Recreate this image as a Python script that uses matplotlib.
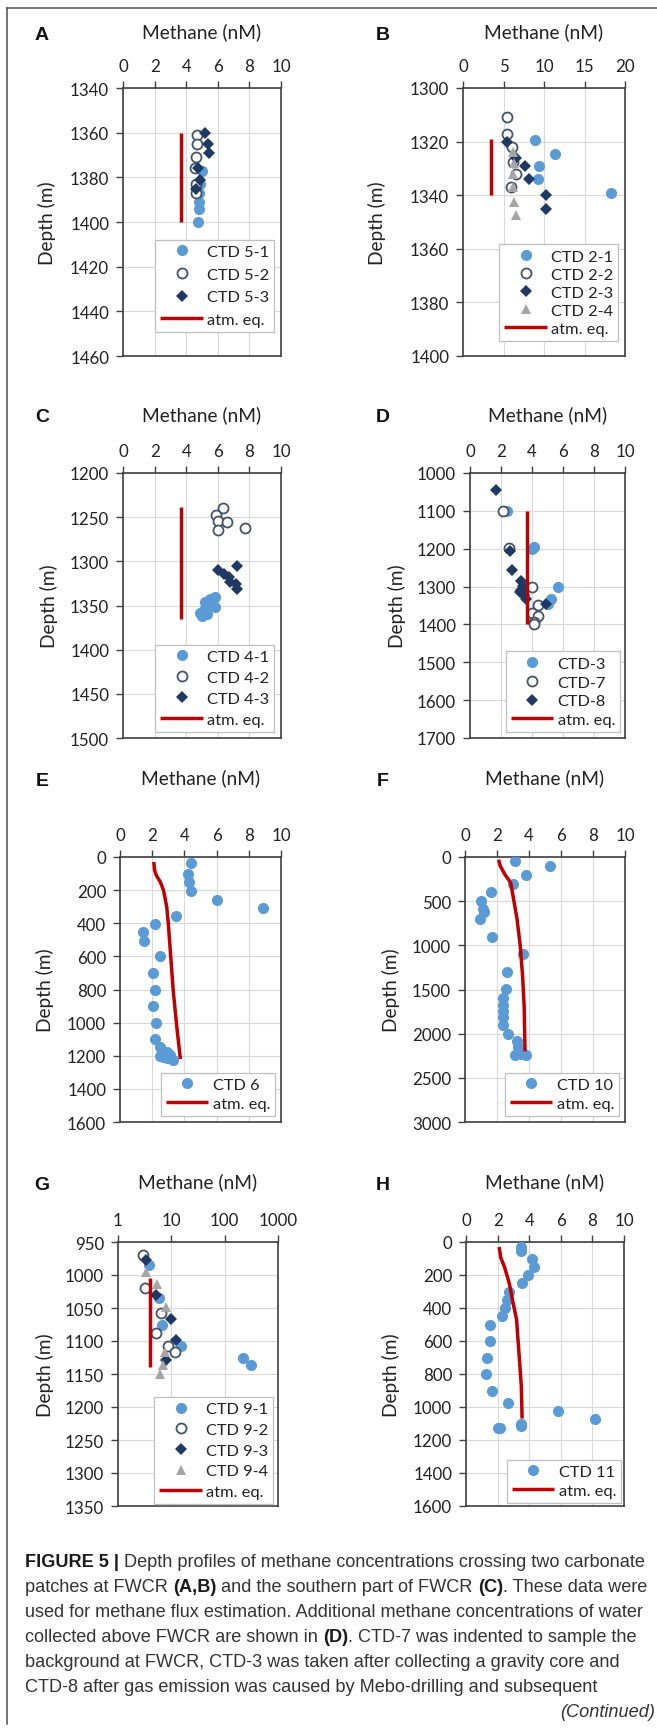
import matplotlib
matplotlib.use("Agg")
import matplotlib.pyplot as plt
from matplotlib.lines import Line2D
from matplotlib.ticker import NullLocator

plt.rcParams['font.family'] = ['Lato', 'DejaVu Sans']

W, H = 657, 1731

# ---------------- DATA ----------------
# Panel A
a_51_conc = [5.0, 4.9, 4.8, 4.8, 4.8, 4.75]
a_51_depth = [1377, 1383, 1387, 1391, 1394, 1400]
a_52_conc = [4.7, 4.7, 4.6, 4.55, 4.6, 4.65]
a_52_depth = [1361, 1365, 1371, 1376, 1383, 1387]
a_53_conc = [5.2, 5.35, 5.45, 4.75, 4.85, 4.65]
a_53_depth = [1360, 1365, 1369, 1376, 1381, 1385]
a_atm_conc = [3.65, 3.65]
a_atm_depth = [1360, 1400]

# Panel B
b_21_conc = [8.9, 11.3, 9.4, 9.2, 18.3]
b_21_depth = [1319.5, 1324.5, 1329, 1334, 1339]
b_22_conc = [5.4, 5.4, 6.1, 6.2, 6.5, 5.9]
b_22_depth = [1311, 1317, 1322, 1327.5, 1332, 1337]
b_23_conc = [5.4, 6.5, 7.6, 8.2, 10.3, 10.3]
b_23_depth = [1320, 1326, 1329, 1334, 1340, 1345]
b_24_conc = [6.2, 6.3, 6.2, 6.2, 6.3, 6.6]
b_24_depth = [1324, 1328, 1332, 1337, 1342.5, 1347.5]
b_atm_conc = [3.5, 3.5]
b_atm_depth = [1319, 1340]

# Panel C
c_41_conc = [5.8, 5.5, 5.2, 5.6, 5.8, 5.1, 4.9, 5.0, 5.3]
c_41_depth = [1340, 1343, 1346, 1349, 1352, 1355, 1358, 1362, 1360]
c_42_conc = [6.3, 5.9, 6.0, 6.6, 6.0, 7.7]
c_42_depth = [1240, 1247, 1254, 1256, 1264, 1262]
c_43_conc = [7.2, 6.0, 6.4, 6.7, 6.8, 7.15, 7.2]
c_43_depth = [1305, 1310, 1314, 1318, 1323, 1326, 1331]
c_atm_conc = [3.65, 3.65]
c_atm_depth = [1239, 1365]

# Panel D
d_3_conc = [2.4, 4.1, 4.0, 5.7, 5.2, 5.0]
d_3_depth = [1100, 1196, 1200, 1300, 1332, 1345]
d_7_conc = [2.1, 2.5, 4.0, 4.4, 4.0, 4.4, 4.1, 4.1]
d_7_depth = [1100, 1197, 1300, 1348, 1370, 1378, 1393, 1400]
d_8_conc = [1.7, 2.6, 2.7, 3.3, 3.4, 3.3, 3.2, 3.5, 3.6, 4.9]
d_8_depth = [1045, 1205, 1255, 1285, 1298, 1308, 1315, 1322, 1332, 1345]
d_atm_conc = [3.7, 3.7]
d_atm_depth = [1100, 1400]

# Panel E
e_6_conc = [4.4, 4.2, 4.3, 4.4, 6.0, 8.9, 3.5, 2.2, 1.45, 1.5, 2.5, 2.05,
            2.15, 2.05, 2.25, 2.15, 2.5, 2.9, 2.6, 3.1, 2.7, 2.5, 3.3, 2.9]
e_6_depth = [35, 105, 150, 205, 260, 305, 355, 405, 452, 505, 600, 700,
             800, 900, 1000, 1100, 1150, 1175, 1190, 1195, 1210, 1200, 1225, 1215]
e_atm_conc = [2.1, 2.15, 2.25, 2.5, 2.7, 2.9, 3.0, 3.15, 3.3, 3.5, 3.75]
e_atm_depth = [30, 80, 110, 150, 200, 300, 400, 600, 800, 1000, 1220]

# Panel F
f_10_conc = [3.1, 5.3, 3.8, 3.0, 1.6, 1.0, 1.1, 1.2, 0.95, 1.7, 3.6, 2.6,
             2.55, 2.35, 2.4, 2.4, 2.35, 2.4, 2.7, 3.25, 3.3, 3.1, 3.8, 3.5]
f_10_depth = [40, 105, 205, 310, 400, 500, 590, 620, 700, 900, 1100, 1305,
              1495, 1600, 1680, 1740, 1810, 1900, 2000, 2080, 2150, 2240, 2240, 2230]
f_atm_conc = [2.1, 2.2, 2.5, 2.85, 3.0, 3.25, 3.45, 3.6, 3.7, 3.75]
f_atm_depth = [30, 100, 200, 290, 440, 700, 1000, 1350, 1700, 2200]

# Panel G (log scale)
g_91_conc = [3.8, 5.8, 6.8, 15, 220, 310]
g_91_depth = [985, 1035, 1076, 1107, 1126, 1136]
g_92_conc = [2.9, 3.25, 6.3, 5.1, 8.7, 11.5]
g_92_depth = [969, 1019, 1057, 1088, 1107, 1117]
g_93_conc = [3.3, 5.2, 10, 12, 8.1]
g_93_depth = [977, 1030, 1067, 1099, 1129]
g_94_conc = [3.3, 5.4, 8.1, 7.5, 7.0, 6.0]
g_94_depth = [996, 1014, 1048, 1117, 1137, 1150]
g_atm_conc = [3.9, 3.9]
g_atm_depth = [1005, 1140]

# Panel H
h_11_conc = [3.45, 3.5, 4.2, 4.3, 3.9, 3.55, 2.75, 2.6, 2.45, 2.3, 1.5, 1.55,
             1.3, 1.25, 1.65, 2.65, 5.85, 8.15, 3.5, 3.45, 2.05, 2.15]
h_11_depth = [30, 55, 100, 150, 200, 250, 300, 350, 400, 450, 500, 600,
              700, 800, 900, 975, 1025, 1070, 1100, 1115, 1130, 1125]
h_atm_conc = [2.1, 2.2, 2.45, 2.75, 2.95, 3.2, 3.35, 3.5, 3.55]
h_atm_depth = [30, 95, 155, 255, 355, 470, 670, 870, 1070]

x_ticks_10 = [0, 2, 4, 6, 8, 10]
x_ticks_20 = [0, 5, 10, 15, 20]
x_ticks_log = [1, 10, 100, 1000]
x_labels_log = ['1', '10', '100', '1000']
y_ticks_a = list(range(1340, 1461, 20))
y_ticks_b = list(range(1300, 1401, 20))
y_ticks_c = list(range(1200, 1501, 50))
y_ticks_d = list(range(1000, 1701, 100))
y_ticks_e = list(range(0, 1601, 200))
y_ticks_f = list(range(0, 3001, 500))
y_ticks_g = list(range(950, 1351, 50))
y_ticks_h = list(range(0, 1601, 200))

# ---------------- STYLES ----------------
LIGHT = dict(marker='o', ls='none', ms=8.0, mfc='#5B9BD5', mec='#5B9BD5', mew=0)
OPEN = dict(marker='o', ls='none', ms=7.2, mfc='white', mec='#44546A', mew=1.3)
DIAM = dict(marker='D', ls='none', ms=6.3, mfc='#1F3864', mec='#1F3864', mew=0)
TRI = dict(marker='^', ls='none', ms=7.8, mfc='#A5A5A5', mec='#A5A5A5', mew=0)
ATM = dict(color='#C00000', lw=2.5, solid_capstyle='butt')

panels = [
    dict(letter='A', box=(123, 89, 281, 357), xlim=(0, 10), xticks=x_ticks_10,
         ylim=(1460, 1340), yticks=y_ticks_a,
         series=[(a_51_conc, a_51_depth, LIGHT, 'CTD 5-1'),
                 (a_52_conc, a_52_depth, OPEN, 'CTD 5-2'),
                 (a_53_conc, a_53_depth, DIAM, 'CTD 5-3')],
         atm=(a_atm_conc, a_atm_depth), leg=(274, 333), ls=0.5, ylab=47, title_y=38),
    dict(letter='B', box=(463, 89, 625, 357), xlim=(0, 20), xticks=x_ticks_20,
         ylim=(1400, 1300), yticks=y_ticks_b,
         series=[(b_21_conc, b_21_depth, LIGHT, 'CTD 2-1'),
                 (b_22_conc, b_22_depth, OPEN, 'CTD 2-2'),
                 (b_23_conc, b_23_depth, DIAM, 'CTD 2-3'),
                 (b_24_conc, b_24_depth, TRI, 'CTD 2-4')],
         atm=(b_atm_conc, b_atm_depth), leg=(618, 342), ls=0.22, ylab=377, title_y=38),
    dict(letter='C', box=(123, 474, 281, 739), xlim=(0, 10), xticks=x_ticks_10,
         ylim=(1500, 1200), yticks=y_ticks_c,
         series=[(c_41_conc, c_41_depth, LIGHT, 'CTD 4-1'),
                 (c_42_conc, c_42_depth, OPEN, 'CTD 4-2'),
                 (c_43_conc, c_43_depth, DIAM, 'CTD 4-3')],
         atm=(c_atm_conc, c_atm_depth), leg=(274, 733), ls=0.4, ylab=49, title_y=421),
    dict(letter='D', box=(470, 474, 625, 739), xlim=(0, 10), xticks=x_ticks_10,
         ylim=(1700, 1000), yticks=y_ticks_d,
         series=[(d_3_conc, d_3_depth, LIGHT, 'CTD-3'),
                 (d_7_conc, d_7_depth, OPEN, 'CTD-7'),
                 (d_8_conc, d_8_depth, DIAM, 'CTD-8')],
         atm=(d_atm_conc, d_atm_depth), leg=(620, 733), ls=0.26, ylab=397, title_y=421),
    dict(letter='E', box=(120, 858, 281, 1123), xlim=(0, 10), xticks=x_ticks_10,
         ylim=(1600, 0), yticks=y_ticks_e,
         series=[(e_6_conc, e_6_depth, LIGHT, 'CTD 6')],
         atm=(e_atm_conc, e_atm_depth), leg=(275, 1117), ls=0.28, ylab=45, title_y=784),
    dict(letter='F', box=(465, 858, 625, 1123), xlim=(0, 10), xticks=x_ticks_10,
         ylim=(3000, 0), yticks=y_ticks_f,
         series=[(f_10_conc, f_10_depth, LIGHT, 'CTD 10')],
         atm=(f_atm_conc, f_atm_depth), leg=(619, 1117), ls=0.28, ylab=391, title_y=784),
    dict(letter='G', box=(118, 1243, 278, 1507), xlim=(1, 1000), xticks=x_ticks_log,
         xlabels=x_labels_log, log=True,
         ylim=(1350, 950), yticks=y_ticks_g,
         series=[(g_91_conc, g_91_depth, LIGHT, 'CTD 9-1'),
                 (g_92_conc, g_92_depth, OPEN, 'CTD 9-2'),
                 (g_93_conc, g_93_depth, DIAM, 'CTD 9-3'),
                 (g_94_conc, g_94_depth, TRI, 'CTD 9-4')],
         atm=(g_atm_conc, g_atm_depth), leg=(273, 1505), ls=0.38, ylab=45, title_y=1188),
    dict(letter='H', box=(466, 1243, 624, 1507), xlim=(0, 10), xticks=x_ticks_10,
         ylim=(1600, 0), yticks=y_ticks_h,
         series=[(h_11_conc, h_11_depth, LIGHT, 'CTD 11')],
         atm=(h_atm_conc, h_atm_depth), leg=(621, 1504), ls=0.28, ylab=391, title_y=1188),
]

TXT = '#222222'
TICK_FS = 12.2
LEG_FS = 11.8
LAB_FS = 13.8

fig = plt.figure(figsize=(W / 100, H / 100), dpi=100)
fig.patch.set_facecolor('white')

for p in panels:
    l, t, r, b = p['box']
    ax = fig.add_axes([l / W, 1 - b / H, (r - l) / W, (b - t) / H])
    handles, labels = [], []
    for xs, ys, st, lab in p['series']:
        h, = ax.plot(xs, ys, **st, zorder=3)
        handles.append(h)
        labels.append(lab)
    ha, = ax.plot(p['atm'][0], p['atm'][1], **ATM, zorder=4)
    handles.append(ha)
    labels.append('atm. eq.')
    if p.get('log'):
        ax.set_xscale('log')
        ax.xaxis.set_minor_locator(NullLocator())
    ax.set_xlim(*p['xlim'])
    ax.set_ylim(*p['ylim'])
    ax.set_xticks(p['xticks'])
    if p.get('xlabels'):
        ax.set_xticklabels(p['xlabels'])
    ax.set_yticks(p['yticks'])
    ax.xaxis.tick_top()
    ax.tick_params(axis='x', which='major', direction='out', length=5, width=1.0,
                   pad=5, labelsize=TICK_FS, colors='#404040', labelcolor=TXT)
    ax.tick_params(axis='y', which='major', direction='out', length=5, width=1.0,
                   pad=5, labelsize=TICK_FS, colors='#404040', labelcolor=TXT)
    ax.grid(True, color='#D9D9D9', lw=0.8)
    ax.set_axisbelow(True)
    for s in ax.spines.values():
        s.set_color('#404040')
        s.set_linewidth(1.2)
    h_ax = b - t
    w_ax = r - l
    ax.set_xlabel('Methane (nM)', fontsize=LAB_FS, color=TXT, va='center')
    ax.xaxis.set_label_position('top')
    ax.xaxis.set_label_coords(0.5, 1 + (t - p['title_y']) / h_ax)
    ax.set_ylabel('Depth (m)', fontsize=LAB_FS, color=TXT, va='center')
    ax.yaxis.set_label_coords((p['ylab'] - l) / w_ax, 0.5)
    leg = ax.legend(handles, labels, loc='lower right',
                    bbox_to_anchor=(p['leg'][0] / W, 1 - p['leg'][1] / H),
                    bbox_transform=fig.transFigure, borderaxespad=0,
                    frameon=True, fancybox=False, framealpha=1,
                    edgecolor='#BFBFBF', fontsize=LEG_FS, handlelength=2.6,
                    handletextpad=0.25, labelspacing=p['ls'], borderpad=0.3,
                    numpoints=1)
    leg.get_frame().set_linewidth(0.9)
    for txt in leg.get_texts():
        txt.set_color(TXT)
    fig.text((42 if l < 300 else 383) / W,
             1 - (p['title_y'] - 3) / H, p['letter'], fontsize=14,
             fontweight='bold', family='Liberation Sans', color='#111111',
             ha='center', va='center')

# Frame lines
fig.add_artist(Line2D([7 / W, 1.0], [1 - 9 / H, 1 - 9 / H], transform=fig.transFigure,
                      color='#4d4d4d', lw=1.1))
fig.add_artist(Line2D([7 / W, 7 / W], [1 - 9 / H, 1 - 1725 / H], transform=fig.transFigure,
                      color='#4d4d4d', lw=1.1))

# Caption
renderer = fig.canvas.get_renderer()
CAP_FAMILY = 'Liberation Sans'


def seg_width(s, size, weight='normal', style='normal'):
    t = fig.text(0, 0, s, fontsize=size, fontweight=weight, fontstyle=style,
                 family=CAP_FAMILY)
    w = t.get_window_extent(renderer).width
    t.remove()
    return w


caption = [
    [("FIGURE 5 |", 'bold'), (" Depth profiles of methane concentrations crossing two carbonate", 'normal')],
    [("patches at FWCR ", 'normal'), ("(A,B)", 'bold'), (" and the southern part of FWCR ", 'normal'),
     ("(C)", 'bold'), (". These data were", 'normal')],
    [("used for methane flux estimation. Additional methane concentrations of water", 'normal')],
    [("collected above FWCR are shown in ", 'normal'), ("(D)", 'bold'),
     (". CTD-7 was indented to sample the", 'normal')],
    [("background at FWCR, CTD-3 was taken after collecting a gravity core and", 'normal')],
    [("CTD-8 after gas emission was caused by Mebo-drilling and subsequent", 'normal')],
]


def line_width(line, size):
    tot = 0
    for s, wgt in line:
        sp = seg_width('a a', size, wgt) - seg_width('aa', size, wgt)
        lead = len(s) - len(s.lstrip(' '))
        trail = len(s) - len(s.rstrip(' '))
        tot += sp * (lead + trail) + seg_width(s.strip(), size, wgt)
    return tot


base = 12.0
w0 = line_width(caption[0], base)
cap_fs = base * 624.0 / w0

x0 = 25
baseline0 = 1567
dy = 25
for i, line in enumerate(caption):
    x = x0
    yb = baseline0 + i * dy
    for s, wgt in line:
        sp = seg_width('a a', cap_fs, wgt) - seg_width('aa', cap_fs, wgt)
        lead = len(s) - len(s.lstrip(' '))
        trail = len(s) - len(s.rstrip(' '))
        x += sp * lead
        core = s.strip()
        col = '#1a1a1a' if wgt == 'bold' else '#333333'
        fig.text(x / W, 1 - yb / H, core, fontsize=cap_fs, fontweight=wgt,
                 family=CAP_FAMILY, color=col, ha='left', va='baseline')
        x += seg_width(core, cap_fs, wgt) + sp * trail

fig.text(655 / W, 1 - (baseline0 + 6 * dy) / H, '(Continued)', fontsize=cap_fs,
         fontstyle='italic', family=CAP_FAMILY, color='#333333', ha='right', va='baseline')

fig.savefig('out.png', dpi=100, facecolor='white')
